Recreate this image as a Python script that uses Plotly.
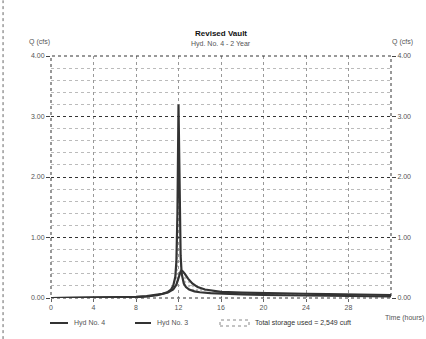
import plotly.graph_objects as go

# ---- data ----
title_text = "Revised Vault"
subtitle_text = "Hyd. No. 4 - 2 Year"
x_ticks = [0, 4, 8, 12, 16, 20, 24, 28]
y_ticks = [0, 1, 2, 3, 4]
y_tick_labels = ["0.00", "1.00", "2.00", "3.00", "4.00"]

# Hyd No. 3 (inflow, sharp peak)
t_hyd3 = [0, 2, 4, 6, 7, 8, 9, 10, 10.5, 11, 11.3, 11.5, 11.7, 11.8, 11.9, 12.0,
          12.05, 12.1, 12.2, 12.3, 12.5, 12.7, 13.0, 13.5, 14, 15, 16, 18, 20,
          22, 24, 26, 28, 30, 32]
q_hyd3 = [0, 0.002, 0.005, 0.01, 0.015, 0.02, 0.03, 0.05, 0.07, 0.10, 0.14, 0.20,
          0.35, 0.60, 1.40, 3.20, 2.60, 1.60, 0.70, 0.40, 0.24, 0.18, 0.14, 0.11,
          0.095, 0.08, 0.07, 0.06, 0.05, 0.045, 0.04, 0.035, 0.03, 0.03, 0.025]

# Hyd No. 4 (vault outflow)
t_hyd4 = [0, 4, 6, 8, 9, 10, 11, 11.5, 11.8, 12.0, 12.1, 12.2, 12.3, 12.4, 12.6,
          12.9, 13.3, 13.8, 14.5, 15.5, 16, 18, 20, 22, 24, 26, 28, 30, 32]
q_hyd4 = [0, 0.002, 0.005, 0.015, 0.025, 0.045, 0.09, 0.14, 0.22, 0.34, 0.41,
          0.44, 0.45, 0.44, 0.40, 0.32, 0.24, 0.18, 0.14, 0.11, 0.10, 0.09, 0.08,
          0.075, 0.07, 0.065, 0.06, 0.055, 0.05]

legend_labels = ["Hyd No. 4", "Hyd No. 3", "Total storage used = 2,549 cuft"]

FONT = "Liberation Sans, Arial, sans-serif"
TXT = "#555"
LINE = "#333"

fig = go.Figure()

fig.add_trace(go.Scatter(x=t_hyd4, y=q_hyd4, mode="lines", name=legend_labels[0],
                         line=dict(color=LINE, width=2.2), showlegend=False))
fig.add_trace(go.Scatter(x=t_hyd3, y=q_hyd3, mode="lines", name=legend_labels[1],
                         line=dict(color=LINE, width=2.2), fill="tonexty",
                         fillcolor="rgba(0,0,0,0)",
                         fillpattern=dict(shape=".", fgcolor="#888", size=4, solidity=0.3),
                         showlegend=False))
# dummy trace on right axis so it is drawn
fig.add_trace(go.Scatter(x=[0], y=[0], yaxis="y2", mode="markers",
                         marker=dict(opacity=0), showlegend=False, hoverinfo="skip"))

fig.update_layout(
    width=426, height=339,
    margin=dict(l=51, r=35, t=56, b=41),
    paper_bgcolor="white", plot_bgcolor="white",
    font=dict(family=FONT, size=7, color=TXT),
    xaxis=dict(range=[0, 32], tickvals=x_ticks, ticks="outside", ticklen=3,
               tickcolor="#666", showgrid=True, gridcolor="#999", griddash="dot",
               gridwidth=1, zeroline=False, showline=False,
               tickfont=dict(size=7, color=TXT)),
    yaxis=dict(range=[0, 4], tickvals=y_ticks, ticktext=y_tick_labels,
               ticks="outside", ticklen=4, tickcolor="#444",
               showgrid=True, gridcolor="#333", griddash="dot", gridwidth=1,
               zeroline=False, showline=False,
               minor=dict(dtick=0.2, showgrid=True, gridcolor="#bbb",
                          griddash="dot", gridwidth=1),
               tickfont=dict(size=7, color=TXT)),
    yaxis2=dict(range=[0, 4], tickvals=y_ticks, ticktext=y_tick_labels,
                overlaying="y", side="right", ticks="outside", ticklen=4,
                tickcolor="#444", showgrid=False, zeroline=False, showline=False,
                tickfont=dict(size=7, color=TXT)),
)

# border of plot area (dotted)
fig.add_shape(type="rect", xref="paper", yref="paper", x0=0, x1=1, y0=0, y1=1,
              line=dict(color="#333", width=1, dash="dot"), layer="above")
# page border on the far left
fig.add_shape(type="line", xref="paper", yref="paper", x0=-0.141, x1=-0.141,
              y0=-0.17, y1=1.23, line=dict(color="#666", width=1, dash="dot"))

ann = [
    dict(text="<b>" + title_text + "</b>", x=0.5, y=33, size=8, color="#111"),
    dict(text=subtitle_text, x=0.5, y=44, size=7, color=TXT),
]
for a in ann:
    fig.add_annotation(text=a["text"], xref="paper", yref="paper", x=a["x"],
                       y=(298 - a["y"]) / 242, showarrow=False,
                       font=dict(size=a["size"], color=a["color"], family=FONT),
                       xanchor="center", yanchor="middle")

def px_x(px):
    return (px - 51) / 340

def px_y(py):
    return (298 - py) / 242

fig.add_annotation(text="Q (cfs)", xref="paper", yref="paper", x=px_x(27), y=px_y(42),
                   showarrow=False, xanchor="left", yanchor="middle",
                   font=dict(size=7, color=TXT, family=FONT))
fig.add_annotation(text="Q (cfs)", xref="paper", yref="paper", x=px_x(390), y=px_y(42),
                   showarrow=False, xanchor="left", yanchor="middle",
                   font=dict(size=7, color=TXT, family=FONT))
fig.add_annotation(text="Time (hours)", xref="paper", yref="paper", x=px_x(383), y=px_y(318),
                   showarrow=False, xanchor="left", yanchor="middle",
                   font=dict(size=7, color=TXT, family=FONT))

# manual legend
ly = px_y(323)
fig.add_shape(type="line", xref="paper", yref="paper", x0=px_x(50), x1=px_x(68),
              y0=ly, y1=ly, line=dict(color=LINE, width=2))
fig.add_annotation(text=legend_labels[0], xref="paper", yref="paper", x=px_x(72), y=ly,
                   showarrow=False, xanchor="left", yanchor="middle",
                   font=dict(size=7, color=TXT, family=FONT))
fig.add_shape(type="line", xref="paper", yref="paper", x0=px_x(135), x1=px_x(151),
              y0=ly, y1=ly, line=dict(color=LINE, width=2))
fig.add_annotation(text=legend_labels[1], xref="paper", yref="paper", x=px_x(155), y=ly,
                   showarrow=False, xanchor="left", yanchor="middle",
                   font=dict(size=7, color=TXT, family=FONT))
fig.add_shape(type="rect", xref="paper", yref="paper", x0=px_x(220), x1=px_x(249),
              y0=px_y(326), y1=px_y(320), line=dict(color="#888", width=1, dash="dot"),
              fillcolor="rgba(0,0,0,0)")
fig.add_annotation(text=legend_labels[2], xref="paper", yref="paper", x=px_x(253), y=ly,
                   showarrow=False, xanchor="left", yanchor="middle",
                   font=dict(size=7, color="#333", family=FONT))

fig.write_html("out.html")
